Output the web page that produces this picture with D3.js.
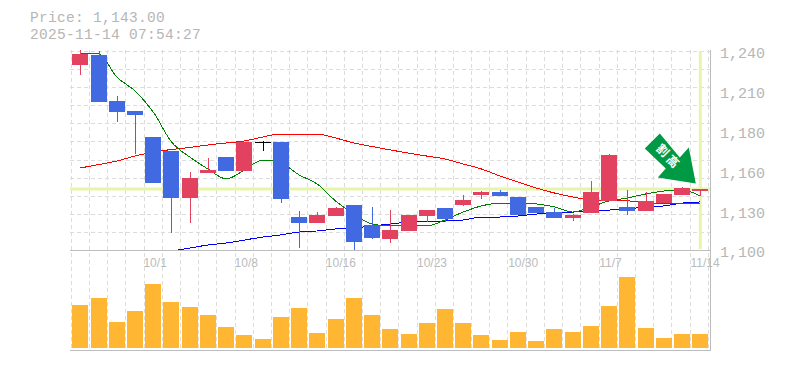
<!DOCTYPE html>
<html>
<head>
<meta charset="utf-8">
<script src="https://cdn.jsdelivr.net/npm/d3@7"></script>
<style>
    html, body { margin: 0; padding: 0; background: #fff; }
    svg { display: block; }
</style>
</head>
<body>
<div id="chart"></div>
<script>
const dates = ["9/25","9/26","9/29","9/30","10/1","10/2","10/3","10/6","10/7","10/8","10/9","10/10","10/14","10/15","10/16","10/17","10/20","10/21","10/22","10/23","10/24","10/27","10/28","10/29","10/30","10/31","11/4","11/5","11/6","11/7","11/10","11/11","11/12","11/13","11/14"];
const dateTicks = ["10/1","10/8","10/16","10/23","10/30","11/7","11/14"];

const opens  = [1230,1237,1205,1198,1179.5,1170,1136.6,1154,1165.4,1155.6,1176,1176,1123,1119,1124,1132,1117.6,1107.7,1113.4,1124,1129.5,1131.7,1138.7,1141,1137.3,1130,1126.7,1122.5,1126,1134.5,1130,1127.4,1133,1138.7,1141.5];
const highs  = [1241,1240,1208,1198,1179.5,1170,1155,1165,1165.4,1176,1177,1176,1127.4,1126.7,1130,1132,1130,1128,1124.6,1128,1129.5,1138.7,1141.5,1142,1137.3,1130,1129.5,1125.3,1148.5,1167.5,1142,1141,1139.4,1144.3,1143];
const lows   = [1223,1204,1190,1167.5,1147,1112,1119,1154,1155.6,1155.6,1170,1133,1101.4,1119,1124,1099.5,1107.7,1105,1113.4,1119.7,1119.7,1131,1136,1138,1124.6,1126,1122.5,1120.4,1126,1134.5,1124.6,1127.4,1133,1138.7,1138];
const closes = [1238,1204,1197,1195,1147,1136.6,1151,1156,1155.6,1176,1176,1136,1119,1124.6,1129.5,1105.6,1108.4,1114,1124.6,1128,1122,1135,1141,1138,1124.6,1126,1122.5,1124.6,1141,1167,1127.4,1134.5,1139.4,1143.6,1143];
const volumes = [43,50,26,37,64,46,41,33,21,13,9,31,40,15,29,50,33,19,14,25,39,25,13,8,16,7,19,16,22,42,71,20,10,14,14];

const maShort = [1237.9,1237.9,1221.7,1211.9,1197.1,1176,1165.4,1157,1150,1156.3,1163.3,1161.2,1152.8,1146.4,1134.5,1125.3,1118.3,1116.9,1116.9,1116.9,1121.1,1126.7,1131,1133,1133,1132.4,1130.3,1126.7,1130.3,1134.5,1136.6,1139.4,1141.5,1142.2,1138];
const maMid   = [1157.7,1160.1,1162.6,1166.1,1168.9,1170.7,1172.1,1173.9,1175.3,1176.7,1179.5,1181.6,1181.6,1181.6,1178.8,1175.3,1172.8,1170.4,1168.2,1166.1,1164,1160.5,1157,1152.1,1147.8,1143.6,1140.1,1137.3,1135.2,1134.5,1134.5,1133.8,1132.4,1132.4,1132.4];
const maLong  = [null,null,null,null,null,1099.3,1101.4,1103.5,1104.9,1107,1109.1,1110.6,1112.7,1113.4,1114.8,1115.5,1116.9,1118.3,1119.7,1120.4,1120.4,1121.1,1123.2,1123.2,1123.9,1125.3,1126,1126.7,1127.4,1128.1,1128.8,1130.3,1131,1133,1133.8];

const priceTicks = [1240,1212,1184,1156,1128,1100];
const lastPrice = 1143;
const stampText = "2025-11-14 07:54:27";

const width = 785, height = 370;
const plotLeft = 71, plotRight = 710, plotTop = 51, plotMid = 250, plotBottom = 350;

const svg = d3.select("#chart").append("svg")
    .attr("width", width)
    .attr("height", height);

const x = d3.scaleBand().domain(dates).range([plotLeft, 709.2]);
const y = d3.scaleLinear().domain([1100, 1240]).range([plotMid, plotTop]);
const yVol = d3.scaleLinear().domain([0, 71]).range([348, 277]);
const step = x.bandwidth();
const cx = d => x(d) + step / 2 + 0.2;

// Grid
const grid = svg.append("g")
    .attr("stroke", "#dcdcdc")
    .attr("stroke-dasharray", "4,3")
    .attr("shape-rendering", "crispEdges");

d3.range(0, 12).forEach(i => {
    const gy = Math.round(y(1100 + i * 140 / 11));
    grid.append("line").attr("x1", 70).attr("x2", plotRight).attr("y1", gy + 0.5).attr("y2", gy + 0.5);
});
dates.concat(["end"]).forEach((d, i) => {
    const gx = Math.round(plotLeft - 0.3 + i * 18.2);
    grid.append("line").attr("x1", gx + 0.5).attr("x2", gx + 0.5).attr("y1", 50).attr("y2", plotBottom);
});

// Last price cross hair
svg.append("line")
    .attr("x1", 70).attr("x2", plotRight)
    .attr("y1", y(lastPrice)).attr("y2", y(lastPrice))
    .attr("stroke", "#e6f5aa").attr("stroke-width", 3);
svg.append("line")
    .attr("x1", cx(dates[34])).attr("x2", cx(dates[34]))
    .attr("y1", plotTop).attr("y2", plotMid - 1)
    .attr("stroke", "#e6f5aa").attr("stroke-width", 3);

// Moving averages, under the candles
const maLine = d3.line()
    .defined(d => d.v !== null)
    .x(d => cx(d.date))
    .y(d => y(d.v))
    .curve(d3.curveMonotoneX);

[[maLong, "#0000ff"], [maMid, "#ff0000"], [maShort, "#008000"]].forEach(([vals, color]) => {
    svg.append("path")
        .datum(vals.map((v, i) => ({ date: dates[i], v: v })))
        .attr("fill", "none")
        .attr("stroke", color)
        .attr("stroke-width", 1)
        .attr("shape-rendering", "crispEdges")
        .attr("d", maLine);
});

// Candles
const candles = dates.map((d, i) => ({ date: d, o: opens[i], h: highs[i], l: lows[i], c: closes[i], vol: volumes[i] }));
const candleColor = d => d.c > d.o ? "#e2415f" : d.c < d.o ? "#4169e1" : "#000";

const candle = svg.append("g").attr("shape-rendering", "crispEdges")
    .selectAll("g")
    .data(candles)
    .enter()
    .append("g");

candle.append("line")
    .attr("x1", d => Math.round(cx(d.date)) + 0.5)
    .attr("x2", d => Math.round(cx(d.date)) + 0.5)
    .attr("y1", d => y(d.h))
    .attr("y2", d => y(d.l))
    .attr("stroke", candleColor);

candle.append("rect")
    .attr("x", d => Math.round(cx(d.date)) - 8)
    .attr("width", 16)
    .attr("y", d => Math.round(y(Math.max(d.o, d.c))))
    .attr("height", d => Math.max(1, Math.round(y(Math.min(d.o, d.c))) - Math.round(y(Math.max(d.o, d.c)))))
    .attr("fill", candleColor);

// Volume
svg.append("g").attr("shape-rendering", "crispEdges")
    .selectAll("rect")
    .data(candles)
    .enter()
    .append("rect")
    .attr("x", d => Math.round(cx(d.date)) - 8)
    .attr("width", 16)
    .attr("y", d => yVol(d.vol))
    .attr("height", d => yVol(0) - yVol(d.vol))
    .attr("fill", "#ffb733");

// Frame
const frame = svg.append("g").attr("stroke", "#bdbdbd").attr("shape-rendering", "crispEdges");
frame.append("line").attr("x1", 70).attr("x2", plotRight).attr("y1", plotMid + 0.5).attr("y2", plotMid + 0.5);
frame.append("line").attr("x1", 70).attr("x2", plotRight).attr("y1", plotBottom + 0.5).attr("y2", plotBottom + 0.5);
frame.append("line").attr("x1", plotRight + 0.5).attr("x2", plotRight + 0.5).attr("y1", 50).attr("y2", plotBottom + 1);

// Axes
const yAxis = svg.append("g")
    .attr("transform", `translate(${plotRight},0)`)
    .call(d3.axisRight(y)
        .tickValues(priceTicks)
        .tickSize(0)
        .tickFormat(d => d3.format(",")(Math.round(d / 10) * 10)));
yAxis.select(".domain").remove();
yAxis.selectAll("text")
    .attr("x", 10)
    .attr("dy", "0.46em")
    .style("font-family", "'Liberation Mono', monospace")
    .style("font-size", "15px")
    .style("fill", "#b6b6b6");

const xAxis = svg.append("g")
    .attr("transform", `translate(0,${plotMid})`)
    .call(d3.axisBottom(x).tickValues(dateTicks).tickSize(0));
xAxis.select(".domain").remove();
xAxis.selectAll("text")
    .attr("x", -step / 2 - 0.5)
    .attr("y", 17)
    .attr("dy", 0)
    .attr("text-anchor", "start")
    .style("font-family", "'Liberation Sans', sans-serif")
    .style("font-size", "12px")
    .style("fill", "#bbb");

// Header
const headerFont = g => g
    .style("font-family", "'Liberation Mono', monospace")
    .style("font-size", "14.5px")
    .style("letter-spacing", "0.3px")
    .style("fill", "#b6b6b6");
svg.append("text").attr("x", 30).attr("y", 22.3)
    .text("Price: " + d3.format(",.2f")(lastPrice))
    .call(headerFont);
svg.append("text").attr("x", 30).attr("y", 38.8)
    .text(stampText)
    .call(headerFont);

// Arrow badge pointing at the last candle
const badge = svg.append("g")
    .attr("transform", `translate(${cx(dates[34]) - 4.5},${y(lastPrice) - 5.5})`);
badge.append("path")
    .attr("d", "M-36,-50L-51,-35L-30,-15L-38,-6L0,0L-7,-36L-16,-26Z")
    .attr("fill", "#009944");
[["割", -33, -33], ["高", -23, -22]].forEach(([ch, tx, ty]) => {
    badge.append("text")
        .attr("transform", `translate(${tx},${ty}) rotate(45)`)
        .attr("text-anchor", "middle")
        .attr("dy", "0.36em")
        .text(ch)
        .style("font-family", "'Noto Sans CJK JP', sans-serif")
        .style("font-weight", "bold")
        .style("font-size", "12px")
        .style("fill", "#fff");
});
</script>
</body>
</html>
